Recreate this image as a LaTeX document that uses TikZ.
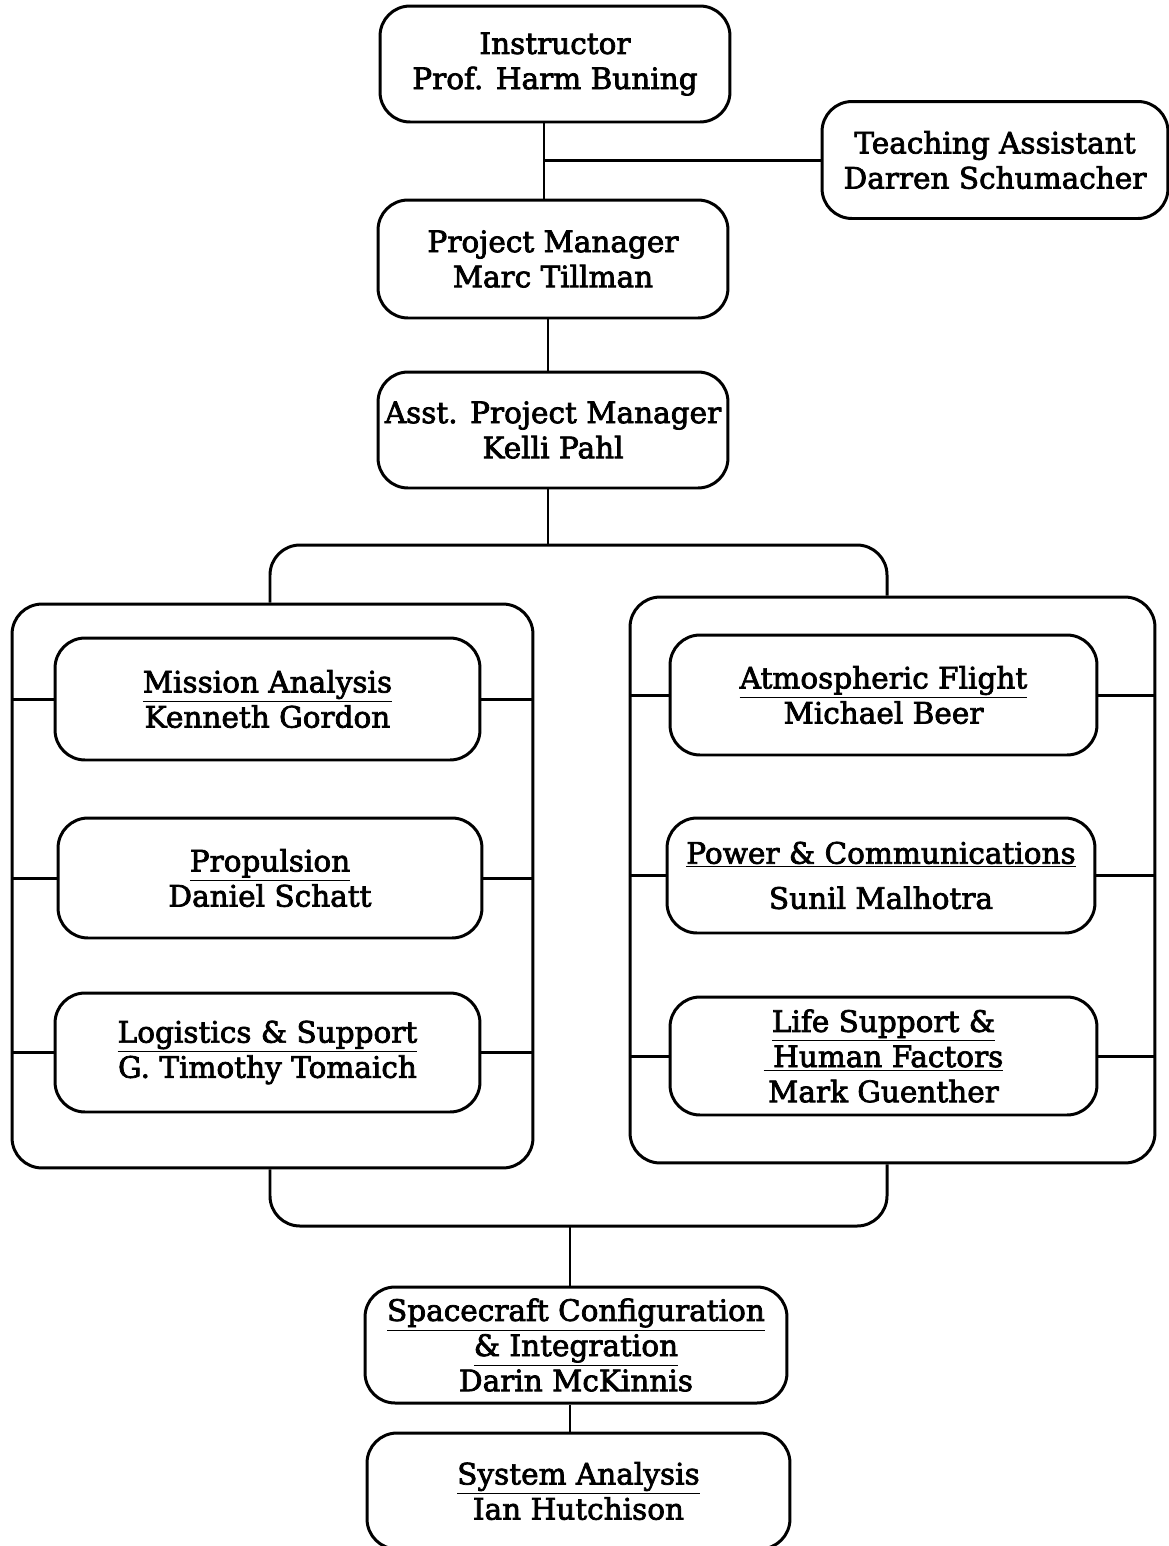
\documentclass[tikz,border=0pt]{standalone}
\usepackage{fontspec}
\setmainfont{DejaVu Serif}[BoldFont=DejaVu Serif,BoldFeatures={FakeBold=2.5}]
\begin{document}
\begin{tikzpicture}[x=0.02cm,y=-0.02cm,line width=1.7pt,
    person/.style={draw,rounded corners=0.6cm,align=center,inner sep=0pt,
        font=\fontsize{16.8}{20}\selectfont\bfseries},
    group/.style={draw,rounded corners=0.6cm,inner sep=0pt},
    ]
    \useasboundingbox (0,0) rectangle (1169,1546);

    % Instructor, assistant and managers
    \node[person,minimum width=7cm,minimum height=2.32cm] (instr) at (555,64)
        {Instructor\\Prof. Harm Buning};
    \node[person,minimum width=6.92cm,minimum height=2.34cm] (ta) at (995,160)
        {Teaching Assistant\\Darren Schumacher};
    \node[person,minimum width=7cm,minimum height=2.36cm] (pm) at (553,259)
        {Project Manager\\Marc Tillman};
    \node[person,minimum width=7cm,minimum height=2.32cm] (apm) at (553,430)
        {Asst. Project Manager\\Kelli Pahl};

    % Group boxes
    \node[group,minimum width=10.42cm,minimum height=11.28cm] (lgrp) at (272.5,886) {};
    \node[group,minimum width=10.5cm,minimum height=11.32cm] (rgrp) at (892.5,880) {};

    % Left group
    \node[person,minimum width=8.5cm,minimum height=2.44cm] (ma) at (267.5,699)
        {\underline{Mission Analysis}\\Kenneth Gordon};
    \node[person,minimum width=8.48cm,minimum height=2.4cm] (prop) at (270,878)
        {\underline{Propulsion}\\Daniel Schatt};
    \node[person,minimum width=8.5cm,minimum height=2.38cm] (log) at (267.5,1052.5)
        {\underline{Logistics \& Support}\\G. Timothy Tomaich};

    % Right group
    \node[person,minimum width=8.54cm,minimum height=2.4cm] (af) at (883.5,695)
        {\underline{Atmospheric Flight}\\Michael Beer};
    \node[person,minimum width=8.56cm,minimum height=2.3cm] (pc) at (881,875.5)
        {\underline{Power \& Communications}\\[0.2cm]Sunil Malhotra};
    \node[person,minimum width=8.54cm,minimum height=2.36cm] (ls) at (883.5,1056)
        {\underline{Life Support \&}\\\underline{\ Human Factors}\\Mark Guenther};

    % Bottom of the chart
    \node[person,minimum width=8.44cm,minimum height=2.32cm] (sc) at (576,1345)
        {\underline{Spacecraft Configuration}\\\underline{\& Integration}\\Darin McKinnis};
    \node[person,minimum width=8.46cm,minimum height=2.32cm] (sa) at (578.5,1491)
        {\underline{System Analysis}\\Ian Hutchison};

    % Vertical links
    \coordinate (spine) at (544,157);
    \draw (instr.south -| spine) -- (pm.north -| spine);
    \draw (ta.west) -- (ta.west -| spine);
    \draw (pm.south -| 548,0) -- (apm.north -| 548,0);

    % Brackets round the groups
    \coordinate (top) at (548,545);
    \coordinate (bot) at (570,1226);
    \draw[rounded corners=0.6cm] (lgrp.north -| 270,0) |- (top) -| (rgrp.north -| 887,0);
    \draw (apm.south -| top) -- (top);
    \draw[rounded corners=0.6cm] (lgrp.south -| 270,0) |- (bot) -| (rgrp.south -| 887,0);
    \draw (bot) -- (sc.north -| bot);
    \draw (sc.south -| bot) -- (sa.north -| bot);

    % Side ticks
    \foreach \n in {ma,prop,log}{
        \draw (\n.west) -- (\n.west -| lgrp.west);
        \draw (\n.east) -- (\n.east -| lgrp.east);
    }
    \foreach \n in {af,pc,ls}{
        \draw (\n.west) -- (\n.west -| rgrp.west);
        \draw (\n.east) -- (\n.east -| rgrp.east);
    }
\end{tikzpicture}
\end{document}
